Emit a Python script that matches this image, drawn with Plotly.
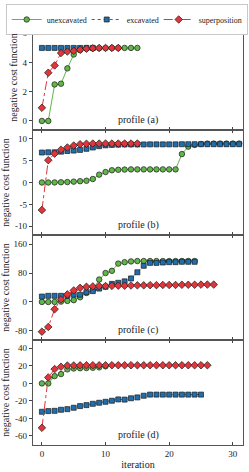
import plotly.graph_objects as go
from plotly.subplots import make_subplots

# ---------------- data ----------------
series_names = ["unexcavated", "excavated", "superposition"]
panel_labels = ["profile (a)", "profile (b)", "profile (c)", "profile (d)"]

a_unexc = [0.0, 0.0, 2.5, 2.55, 3.6, 4.55, 4.85, 4.95, 4.97, 4.98, 4.99, 5.0, 5.0, 5.0, 5.0, 5.0]
a_exc = [5.0, 5.0, 5.0, 5.0, 5.0, 5.0, 5.0, 5.0, 5.0]
a_sup = [0.9, 3.3, 3.8, 4.65, 4.75, 4.8, 4.88, 4.95, 4.98, 5.0, 5.0, 5.0, 5.0]

b_unexc = [0.0, 0.0, 0.02, 0.05, 0.1, 0.2, 0.3, 0.4, 0.8, 1.8, 2.4, 2.8, 2.9, 2.95, 3.0, 3.0,
           3.0, 3.0, 3.0, 3.0, 3.0, 3.0, 6.5, 8.2, 8.6, 8.8, 8.9, 8.9, 8.9, 8.9, 8.9, 8.9]
b_exc = [6.85, 6.9, 6.9, 7.05, 7.2, 7.3, 7.45, 7.7, 8.0, 8.3, 8.5, 8.6, 8.65, 8.7, 8.7, 8.7,
         8.7, 8.72, 8.72, 8.72, 8.72, 8.72, 8.75, 8.75, 8.75, 8.75, 8.75, 8.75, 8.75, 8.75, 8.75, 8.75]
b_sup = [-6.3, 5.1, 6.6, 7.5, 8.0, 8.45, 8.75, 8.85, 8.9, 8.9, 8.9, 8.9, 8.9, 8.9, 8.9, 8.9]

c_unexc = [0.0, 0.0, 0.0, 1.0, 3.0, 5.0, 13.0, 25.0, 33.0, 62.0, 80.0, 86.0, 106.0, 110.0, 112.0,
           113.0, 113.0, 113.0, 113.0, 113.0, 113.0, 113.0, 113.0, 113.0, 113.0]
c_exc = [15.0, 17.0, 17.0, 17.0, 17.0, 20.0, 20.0, 27.0, 30.0, 37.0, 42.0, 50.0, 53.0, 57.0, 65.0,
         82.0, 100.0, 108.0, 108.0, 109.0, 110.0, 110.0, 111.0, 111.0, 111.0]
c_sup = [-82.0, -69.0, -20.0, 7.0, 21.0, 32.0, 39.0, 42.0, 43.0, 44.0, 44.0, 44.5, 45.0, 45.0,
         45.5, 46.0, 46.0, 46.5, 46.5, 47.0, 47.0, 47.0, 47.5, 47.5, 47.5, 48.0, 48.0, 48.0]

d_unexc = [0.0, 0.0, 8.3, 10.6, 16.0, 17.0, 17.3, 17.5, 17.8, 18.3, 19.5]
d_exc = [-32.4, -31.6, -31.3, -30.1, -29.4, -27.8, -25.9, -24.8, -23.3, -22.1, -21.0, -19.8, -18.3,
         -18.5, -17.0, -16.0, -14.1, -12.8, -12.8, -12.8, -12.8, -12.8, -12.8, -12.8, -12.8, -12.8]
d_sup = [-50.7, 6.8, 16.3, 19.0, 20.3, 20.5, 20.6, 20.7, 20.7, 20.7, 20.7, 20.7, 20.7, 20.7,
         20.7, 20.7, 20.7, 20.7, 20.7, 20.7, 20.7, 20.7, 20.7, 20.7, 20.7, 20.7, 20.7]

panels = [(a_unexc, a_exc, a_sup), (b_unexc, b_exc, b_sup),
          (c_unexc, c_exc, c_sup), (d_unexc, d_exc, d_sup)]

ref_values = [5.0, 8.9, 114.0, 20.7]

y_ranges = [[-0.62, 6.57], [-12.0, 12.0], [-105.0, 185.0], [-70.3, 49.5]]
y_tickvals = [[0, 2, 4, 6], [-10, -5, 0, 5, 10], [-80, 0, 80, 160], [-60, -40, -20, 0, 20, 40]]
y_ticktext = [["0", "2", "4", "6"], ["-10", "-5", "0", "5", "10"], ["-80", "0", "80", "160"],
              ["-60", "-40", "-20", "0", "20", "40"]]
x_tickvals = [0, 10, 20, 30]

# ---------------- style ----------------
FONT = "Liberation Serif, Times New Roman, DejaVu Serif, serif"
colors = ["#62b74a", "#1f6fae", "#e0353b"]
symbols = ["circle", "square", "diamond"]
sizes = [5.5, 5, 5.8]
dashes = ["solid", "dot", "dashdot"]
legend_widths = [35, 27, 43]
ref_styles = [dict(color="black", dash="dash", width=0.9),
              dict(color="#333333", dash="dot", width=0.9),
              dict(color="#b0b0b0", dash="solid", width=1),
              dict(color="#b0b0b0", dash="solid", width=1)]

fig = make_subplots(rows=4, cols=1, shared_xaxes=True, vertical_spacing=0)

for r, series in enumerate(panels, start=1):
    fig.add_hline(y=ref_values[r - 1], line=ref_styles[r - 1], row=r, col=1, layer="below")
    for k, vals in enumerate(series):
        fig.add_trace(go.Scatter(
            x=list(range(len(vals))), y=vals, mode="lines+markers",
            name=series_names[k], showlegend=(r == 1),
            legendwidth=legend_widths[k],
            line=dict(color=colors[k], width=1, dash=dashes[k]),
            marker=dict(symbol=symbols[k], size=sizes[k], color=colors[k],
                        line=dict(color="#1a1a1a", width=0.7)),
        ), row=r, col=1)
    fig.add_annotation(text=panel_labels[r - 1], xref="x domain", yref="y domain",
                       x=0.5, y=0.0, yanchor="bottom", yshift=2, showarrow=False,
                       font=dict(family=FONT, size=10, color="#222"), row=r, col=1)
    fig.update_yaxes(range=y_ranges[r - 1], tickvals=y_tickvals[r - 1], ticktext=y_ticktext[r - 1],
                     title=dict(text="negative cost function", font=dict(family=FONT, size=10, color="#222"),
                                standoff=3),
                     row=r, col=1)

fig.update_yaxes(showgrid=False, zeroline=False, showline=True, mirror=True, linecolor="#555",
                 linewidth=1.4, ticks="outside", ticklen=3, tickwidth=0.8, tickcolor="#444",
                 tickfont=dict(family=FONT, size=9, color="#222"))
fig.update_xaxes(range=[-1.4, 31.6], tickvals=x_tickvals, showgrid=False, zeroline=False,
                 showline=True, mirror="ticks", linecolor="#555", linewidth=1.4,
                 ticks="inside", ticklen=3, tickwidth=0.8, tickcolor="#444",
                 tickfont=dict(family=FONT, size=9, color="#222"))
fig.update_xaxes(title=dict(text="iteration", font=dict(family=FONT, size=10, color="#222"), standoff=2),
                 row=4, col=1)

fig.update_layout(
    width=249, height=472,
    margin=dict(l=33, r=6, t=25, b=27, autoexpand=False),
    paper_bgcolor="white", plot_bgcolor="white",
    font=dict(family=FONT, size=9, color="#222"),
    showlegend=True,
    legend=dict(orientation="h", x=-0.13, xanchor="left", xref="paper",
                y=1.05, yanchor="top", yref="paper",
                bgcolor="white", bordercolor="#c8c8c8", borderwidth=1,
                font=dict(family=FONT, size=8, color="#222"),
                itemwidth=30, traceorder="normal"),
)

fig.write_html("out.html", config={"displayModeBar": False},
               post_script="document.body.style.margin='0';document.body.style.padding='0';")
